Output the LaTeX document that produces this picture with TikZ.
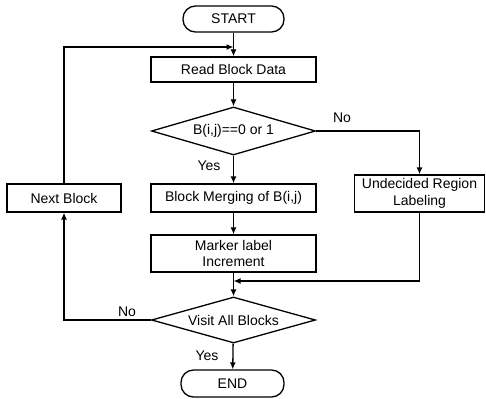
\documentclass[tikz,border=0pt]{standalone}
\usepackage{fontspec}
\setmainfont{Liberation Sans}
\usetikzlibrary{shapes.geometric,arrows.meta}
\begin{document}
\begin{tikzpicture}[x=1pt,y=-1pt,
  every node/.style={font=\fontsize{14}{16.5}\selectfont},
  box/.style={draw,line width=1.3pt,rectangle,inner sep=0pt,align=center},
  term/.style={draw,line width=1.3pt,rectangle,rounded corners=12.5pt,inner sep=0pt},
  dec/.style={draw,line width=1.3pt,diamond,inner sep=0pt},
  conn/.style={line width=1.3pt,-{Latex[length=7pt,width=6pt]}},
  lbl/.style={inner sep=0pt}]
\useasboundingbox (0,0) rectangle (486,398);
\node[term,minimum width=101pt,minimum height=26pt] (start) at (233.5,19) {START};
\node[box,minimum width=165pt,minimum height=25pt] (read) at (233.5,69.5) {Read Block Data};
\node[dec,minimum width=164pt,minimum height=48pt,aspect=3.4] (d1) at (233.5,131) {B(i,j)==0 or 1};
\node[box,minimum width=165pt,minimum height=28pt] (merge) at (233.5,198) {Block Merging of B(i,j)};
\node[box,minimum width=165pt,minimum height=37pt] (marker) at (233.5,253.5) {Marker label\\Increment};
\node[dec,minimum width=164pt,minimum height=46pt,aspect=3.5] (d2) at (233.5,320) {Visit All Blocks};
\node[term,minimum width=103pt,minimum height=27pt] (end) at (232.5,383.5) {END};
\node[box,minimum width=114pt,minimum height=28pt] (next) at (64,198) {Next Block};
\node[box,minimum width=130pt,minimum height=37pt] (undec) at (419.5,193.5) {Undecided Region\\Labeling};
\coordinate (j1) at (233.5,47);
\coordinate (j2) at (233.5,281);
\draw[conn] (start) -- (read);
\draw[conn] (read) -- (d1);
\draw[conn] (d1) -- (merge);
\draw[conn] (merge) -- (marker);
\draw[conn] (marker) -- (d2);
\draw[conn] (d2) -- (end);
\draw[conn] (d1.east) -| (undec.north);
\draw[conn] (undec.south) |- (j2);
\draw[conn] (d2.west) -| (next.south);
\draw[conn] (next.north) |- (j1);
\node[lbl] (yes1) at (209,166) {Yes};
\node[lbl] (no1) at (342,118) {No};
\node[lbl] (no2) at (127,312) {No};
\node[lbl] (yes2) at (207,356) {Yes};
\end{tikzpicture}
\end{document}
